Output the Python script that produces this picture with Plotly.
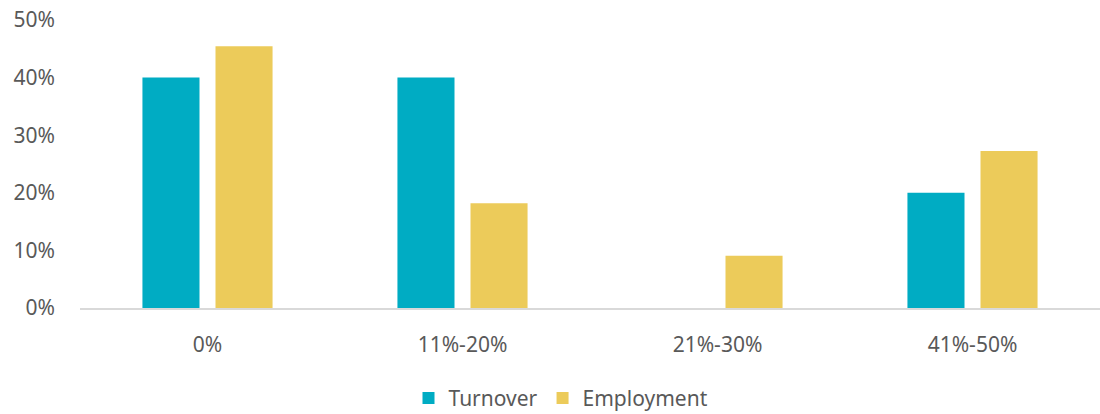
import plotly.graph_objects as go

categories = ["0%", "11%-20%", "21%-30%", "41%-50%"]
turnover = [0.40, 0.40, 0.0, 0.20]
employment = [0.4545, 0.1818, 0.0909, 0.2727]
y_ticks = [0, 0.1, 0.2, 0.3, 0.4, 0.5]

TEXT = "#595959"
FONT = "Noto Sans, Open Sans, sans-serif"

fig = go.Figure()
fig.add_trace(go.Bar(name="Turnover", x=categories, y=turnover,
                     marker=dict(color="#00ACC3", line=dict(width=0))))
fig.add_trace(go.Bar(name="Employment", x=categories, y=employment,
                     marker=dict(color="#ECCB5A", line=dict(width=0))))

fig.update_layout(
    width=1100, height=414,
    margin=dict(l=80, r=0, t=20, b=106, autoexpand=False),
    paper_bgcolor="white", plot_bgcolor="white",
    barmode="group", bargap=0.427, bargroupgap=0.219,
    font=dict(family=FONT, size=21, color=TEXT),
    legend=dict(orientation="h", xref="container", yref="container",
                x=0.51, xanchor="center", y=0.038, yanchor="middle",
                font=dict(size=21, color=TEXT), itemwidth=30, traceorder="normal"),
)
fig.update_xaxes(showline=True, linecolor="#D9D9D9", linewidth=2, showgrid=False,
                 automargin=False, ticks="", ticklabelstandoff=17,
                 tickfont=dict(size=21, color=TEXT))
fig.update_yaxes(range=[0, 0.5], tickvals=y_ticks, tickformat=".0%", showgrid=False,
                 automargin=False, zeroline=False, showline=False, ticks="",
                 ticklabelstandoff=24, tickfont=dict(size=21, color=TEXT))

fig.write_html("out.html")
